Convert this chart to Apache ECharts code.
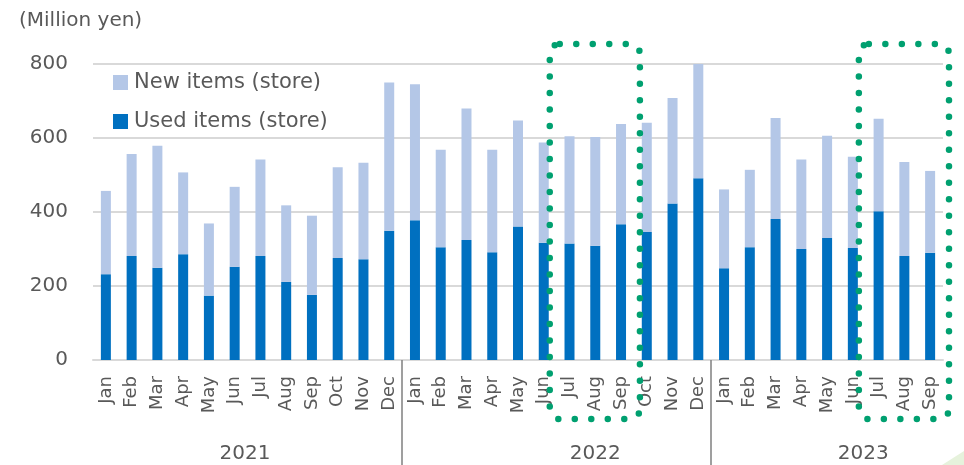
<!DOCTYPE html>
<html>
<head>
<meta charset="utf-8">
<script src="https://cdn.jsdelivr.net/npm/echarts@6/dist/echarts.min.js"></script>
<style>
  html, body { margin: 0; padding: 0; background: #fff; }
  #Echarts { width: 964px; height: 465px; }
</style>
</head>
<body>
<div id="Echarts"></div>
<script>
// store sales by month, million yen
var months = ['Jan','Feb','Mar','Apr','May','Jun','Jul','Aug','Sep','Oct','Nov','Dec',
              'Jan','Feb','Mar','Apr','May','Jun','Jul','Aug','Sep','Oct','Nov','Dec',
              'Jan','Feb','Mar','Apr','May','Jun','Jul','Aug','Sep'];
var usedItems = [232,281,249,286,174,252,281,211,176,276,272,349,
                 378,305,324,291,361,317,315,309,367,346,423,491,
                 248,305,381,300,330,303,402,281,290];
var newItems = [225,276,330,221,195,216,261,207,214,245,261,401,
                367,263,356,277,286,271,290,294,271,295,285,309,
                213,209,273,242,276,246,250,254,221];
var years = ['2021','2022','2023'];
var yearLabelPos = [5.9, 19.5, 29.9];
var yearBreaks = [12, 24];
var yTicks = [0, 200, 400, 600, 800];

var font = 'DejaVu Sans';
var grey = '#595959';

var myChart = echarts.init(document.getElementById('Echarts'));

var option = {
    animation: false,
    textStyle: { fontFamily: font },
    title: {
        text: '(Million yen)',
        left: 14,
        top: 6,
        textStyle: { fontFamily: font, fontSize: 20, fontWeight: 'normal', color: grey }
    },
    legend: {
        orient: 'vertical',
        left: 113,
        top: 72,
        padding: 0,
        itemWidth: 15,
        itemHeight: 15,
        itemGap: 18,
        icon: 'rect',
        data: ['New items (store)', 'Used items (store)'],
        textStyle: { fontFamily: font, fontSize: 21, color: grey, padding: [0, 0, 0, 1] }
    },
    grid: { left: 93, right: 21, top: 64, bottom: 105 },
    xAxis: [
        {
            type: 'category',
            data: months,
            axisLine: { lineStyle: { color: '#d9d9d9', width: 2 } },
            axisTick: { length: 6, lineStyle: { color: '#d9d9d9', width: 2 } },
            axisLabel: { rotate: 90, interval: 0, margin: 16, fontFamily: font, fontSize: 18, color: grey }
        },
        {
            type: 'value',
            min: 0,
            max: months.length,
            position: 'bottom',
            axisLine: { show: false },
            splitLine: { show: false },
            axisTick: {
                show: true,
                customValues: yearBreaks,
                length: 105,
                lineStyle: { color: '#808080', width: 1.5 }
            },
            axisLabel: {
                customValues: yearLabelPos,
                margin: 84,
                fontFamily: font,
                fontSize: 20,
                color: grey,
                formatter: function (v) {
                    return years[yearLabelPos.indexOf(v)];
                }
            }
        }
    ],
    yAxis: {
        type: 'value',
        min: yTicks[0],
        max: yTicks[yTicks.length - 1],
        interval: 200,
        axisLine: { show: false },
        axisTick: { show: false },
        axisLabel: { margin: 25, fontFamily: font, fontSize: 20, color: grey },
        splitLine: { lineStyle: { color: '#d9d9d9', width: 2 } }
    },
    series: [
        {
            name: 'Used items (store)',
            type: 'bar',
            stack: 'store',
            barWidth: 10,
            itemStyle: { color: '#0070C0' },
            data: usedItems
        },
        {
            name: 'New items (store)',
            type: 'bar',
            stack: 'store',
            barWidth: 10,
            itemStyle: { color: '#B4C7E7' },
            data: newItems
        }
    ]
};

myChart.setOption(option);

// dotted green boxes around Jul-Sep of 2022 and 2023
function box(firstIdx, lastIdx) {
    var left = myChart.convertToPixel({ xAxisIndex: 1 }, firstIdx - 0.5) + 6;
    var right = myChart.convertToPixel({ xAxisIndex: 1 }, lastIdx + 1) + 6;
    var top = myChart.convertToPixel({ yAxisIndex: 0 }, 800) - 20;
    var bottom = myChart.convertToPixel({ yAxisIndex: 0 }, 0) + 59;
    return {
        type: 'rect',
        shape: { x: left, y: top, width: right - left, height: bottom - top, r: 10 },
        style: { fill: 'none', stroke: '#00A070', lineWidth: 6.5, lineDash: [0, 16.5], lineCap: 'round' },
        z: 100
    };
}

myChart.setOption({
    graphic: [
        box(18, 20),
        box(30, 32),
        {
            type: 'polygon',
            shape: { points: [[942, 465], [964, 451], [964, 465]] },
            style: { fill: '#e6f2dc' },
            z: 0
        }
    ]
});
</script>
</body>
</html>
